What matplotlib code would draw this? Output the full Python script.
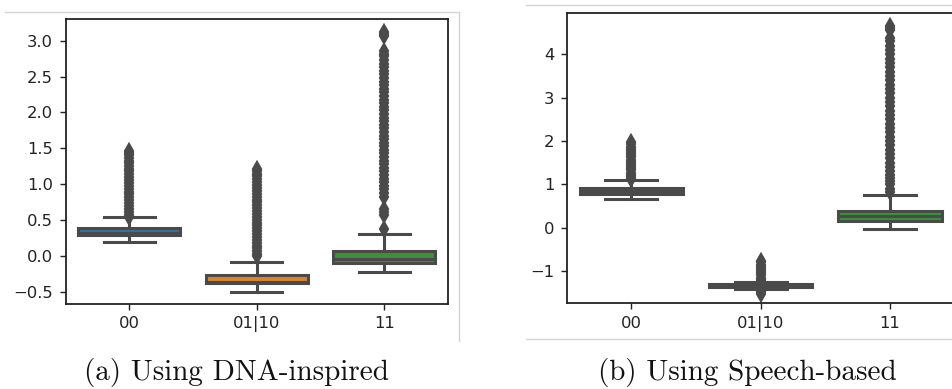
import matplotlib
matplotlib.use("Agg")
import matplotlib.pyplot as plt
from matplotlib.lines import Line2D

# ---------------- data ----------------
categories = ["00", "01|10", "11"]

# Panel (a): DNA-inspired
a_q1 = [0.293, -0.365, -0.092]
a_med = [0.322, -0.352, -0.037]
a_q3 = [0.399, -0.259, 0.074]
a_whislo = [0.200, -0.490, -0.213]
a_whishi = [0.543, -0.074, 0.307]
a_fliers_00 = [0.55, 0.58, 0.62, 0.66, 0.70, 0.74, 0.78, 0.82, 0.86, 0.90, 0.94,
               0.98, 1.02, 1.06, 1.10, 1.14, 1.18, 1.22, 1.26, 1.30, 1.33, 1.37,
               1.41, 1.44, 1.46]
a_fliers_0110 = [0.00, 0.03, 0.07, 0.11, 0.15, 0.19, 0.23, 0.27, 0.31, 0.35, 0.39,
                 0.43, 0.47, 0.51, 0.55, 0.59, 0.63, 0.67, 0.71, 0.75, 0.79, 0.83,
                 0.87, 0.91, 0.95, 0.99, 1.03, 1.07, 1.11, 1.15, 1.18, 1.21]
a_fliers_11 = [0.38, 0.58, 0.62, 0.66, 0.82, 0.88, 0.93, 0.98, 1.03, 1.08, 1.13,
               1.18, 1.23, 1.28, 1.33, 1.38, 1.43, 1.48, 1.53, 1.58, 1.63, 1.68,
               1.73, 1.78, 1.83, 1.88, 1.93, 1.98, 2.03, 2.08, 2.13, 2.18, 2.23,
               2.28, 2.33, 2.38, 2.43, 2.48, 2.53, 2.58, 2.63, 2.68, 2.73, 2.78,
               2.82, 2.86, 3.06, 3.09, 3.12]

# Panel (b): Speech-based
b_q1 = [0.770, -1.360, 0.155]
b_med = [0.850, -1.335, 0.270]
b_q3 = [0.923, -1.310, 0.385]
b_whislo = [0.669, -1.415, -0.020]
b_whishi = [1.107, -1.265, 0.760]
b_fliers_00 = [1.12, 1.17, 1.22, 1.27, 1.32, 1.37, 1.42, 1.47, 1.52, 1.57, 1.62,
               1.67, 1.72, 1.77, 1.82, 1.87, 1.92, 1.97]
b_fliers_0110 = [-1.25, -1.20, -1.15, -1.10, -1.05, -1.00, -0.95, -0.90, -0.85,
                 -0.80, -0.77, -1.45, -1.49, -1.52]
b_fliers_11 = [0.82, 0.90, 1.00, 1.08, 1.15, 1.22, 1.30, 1.40, 1.50, 1.60, 1.70,
               1.80, 1.90, 2.00, 2.10, 2.20, 2.30, 2.40, 2.50, 2.60, 2.70, 2.80,
               2.90, 3.00, 3.10, 3.20, 3.30, 3.40, 3.50, 3.60, 3.70, 3.80, 3.90,
               4.00, 4.10, 4.20, 4.30, 4.38, 4.55, 4.61, 4.66]

captions = ["(a) Using DNA-inspired", "(b) Using Speech-based"]
a_yticks = [-0.5, 0.0, 0.5, 1.0, 1.5, 2.0, 2.5, 3.0]
b_yticks = [-1, 0, 1, 2, 3, 4]

# ---------------- style ----------------
box_colors = ["#3274a1", "#e1812c", "#3a923a"]
line_gray = "#4a4a4a"
LW = 2.2

W, H = 953, 389
fig = plt.figure(figsize=(W / 100, H / 100), dpi=100)


def px_axes(x0, y0, x1, y1):
    return fig.add_axes([x0 / W, 1 - y1 / H, (x1 - x0) / W, (y1 - y0) / H])


def draw_panel(ax, q1, med, q3, wlo, whi, fliers, ylim, yticks, ylabels):
    stats = []
    for i in range(3):
        stats.append(dict(q1=q1[i], med=med[i], q3=q3[i], whislo=wlo[i],
                          whishi=whi[i], fliers=fliers[i]))
    bp = ax.bxp(stats, positions=[0, 1, 2], widths=0.8, patch_artist=True,
                showfliers=True,
                boxprops=dict(edgecolor=line_gray, linewidth=LW),
                whiskerprops=dict(color=line_gray, linewidth=LW),
                capprops=dict(color=line_gray, linewidth=LW),
                medianprops=dict(color=line_gray, linewidth=LW),
                flierprops=dict(marker="d", markersize=7.5, markerfacecolor=line_gray,
                                markeredgecolor=line_gray, markeredgewidth=1.6,
                                linestyle="none"),
                capwidths=0.4)
    for patch, c in zip(bp["boxes"], box_colors):
        patch.set_facecolor(c)
    ax.set_xlim(-0.5, 2.5)
    ax.set_ylim(*ylim)
    ax.set_xticks([0, 1, 2])
    ax.set_xticklabels(categories)
    ax.set_yticks(yticks)
    ax.set_yticklabels(ylabels)
    ax.tick_params(axis="both", labelsize=11.8, colors="#222222", length=4.5,
                   width=1.0)
    ax.tick_params(axis="x", pad=4.5)
    ax.tick_params(axis="y", pad=4.5)
    for s in ax.spines.values():
        s.set_linewidth(1.3)
        s.set_color("#222222")


axA = px_axes(65.7, 19, 448, 304)
draw_panel(axA, a_q1, a_med, a_q3, a_whislo, a_whishi,
           [a_fliers_00, a_fliers_0110, a_fliers_11],
           (-0.663, 3.30), a_yticks,
           [f"{v:.1f}".replace("-", "\u2212") for v in a_yticks])

axB = px_axes(566.7, 13.3, 954.6, 303.3)
draw_panel(axB, b_q1, b_med, b_q3, b_whislo, b_whishi,
           [b_fliers_00, b_fliers_0110, b_fliers_11],
           (-1.745, 4.946), b_yticks,
           [str(v).replace("-", "\u2212") for v in b_yticks])

# screenshot frame lines
frame = "#d4d4d4"
fig.add_artist(Line2D([5 / W, 459 / W], [1 - 12 / H, 1 - 12 / H], color=frame, lw=1.0))
fig.add_artist(Line2D([459 / W, 459 / W], [1 - 12 / H, 1 - 341 / H], color=frame, lw=1.0))
fig.add_artist(Line2D([526 / W, 1.0], [1 - 5.3 / H, 1 - 5.3 / H], color=frame, lw=1.0))
fig.add_artist(Line2D([526 / W, 1.0], [1 - 339 / H, 1 - 339 / H], color=frame, lw=1.0))

# captions
fig.text(237 / W, 1 - 380 / H, captions[0], ha="center", va="baseline",
         fontsize=21, family=["cmr10", "DejaVu Serif"], color="#111111")
fig.text(747 / W, 1 - 380 / H, captions[1], ha="center", va="baseline",
         fontsize=21, family=["cmr10", "DejaVu Serif"], color="#111111")

fig.savefig("out.png", dpi=100)
